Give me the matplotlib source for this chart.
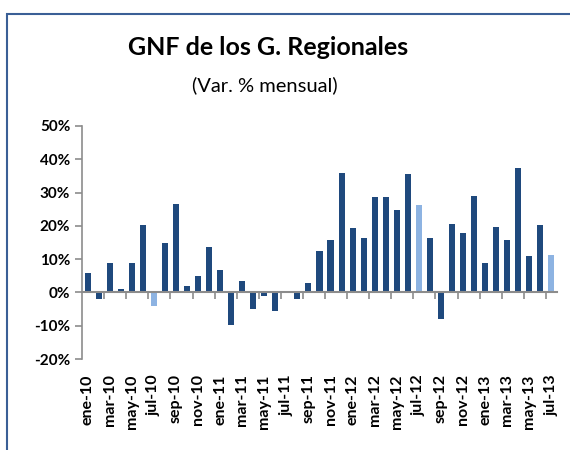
import matplotlib
matplotlib.use("Agg")
import matplotlib.pyplot as plt
from matplotlib.patches import Rectangle
from matplotlib.ticker import FuncFormatter

# Datos: variación % mensual, ene-10 a jul-13
meses = ["ene", "feb", "mar", "abr", "may", "jun",
         "jul", "ago", "sep", "oct", "nov", "dic"]
anios = ["10", "11", "12", "13"]
etiquetas = [m + "-" + a for a in anios for m in meses][:43]
valores = [5.9, -1.9, 8.9, 1.1, 8.9, 20.3, -4.0, 14.9, 26.6, 2.0, 5.0, 13.7,
           6.8, -9.7, 3.5, -4.9, -1.0, -5.5, -0.3, -1.9, 2.9, 12.5, 15.8, 35.9,
           19.4, 16.4, 28.7, 28.7, 24.8, 35.6, 26.3, 16.4, -7.9, 20.6, 17.9, 29.0,
           8.9, 19.7, 15.8, 37.4, 11.0, 20.3, 11.3]
resaltados = ["jul-10", "jul-12", "jul-13"]

plt.rcParams['font.family'] = ['Lato', 'DejaVu Sans']

fig = plt.figure(figsize=(5.7, 4.5), dpi=100)
ax = fig.add_axes([0.144, 0.2022, 0.833, 0.518])

colores = ['#8db3e2' if e in resaltados else '#1f497d' for e in etiquetas]
x = list(range(len(valores)))
ax.bar(x, valores, width=0.55, color=colores, zorder=1)

ax.set_xlim(-0.5, len(valores) - 0.5)
ax.set_ylim(-20, 50)
ax.set_yticks(range(-20, 51, 10))
ax.yaxis.set_major_formatter(FuncFormatter(lambda v, p: f"{v:.0f}%"))

gris = '#8c8c8c'
for s in ['top', 'right']:
    ax.spines[s].set_visible(False)
ax.spines['left'].set_color(gris)
ax.spines['left'].set_linewidth(1.2)
ax.spines['bottom'].set_position(('data', 0))
ax.spines['bottom'].set_color(gris)
ax.spines['bottom'].set_linewidth(1.5)

ax.set_xticks(x[::2])
ax.set_xticklabels(etiquetas[::2], rotation=90, fontweight='bold', fontsize=11.5)
ax.set_xticks([i + 1.5 for i in x[::2]][:-1], minor=True)
ax.tick_params(axis='x', which='major', length=0, pad=59)
ax.tick_params(axis='x', which='minor', length=5, color=gris, width=1.2)
ax.tick_params(axis='y', length=5, color=gris, width=1.2, labelsize=11)
for t in ax.get_yticklabels():
    t.set_fontweight('bold')

fig.text(0.47, 0.895, "GNF de los G. Regionales", ha='center', va='center',
         fontsize=18, fontweight='bold')
fig.text(0.465, 0.81, "(Var. % mensual)", ha='center', va='center', fontsize=14.5)

marco = Rectangle((7 / 570, -0.1), 1.2, (436 / 450) + 0.1, transform=fig.transFigure,
                  fill=False, edgecolor='#3a5f96', linewidth=1.5)
fig.patches.append(marco)

fig.savefig("out.png", dpi=100)
